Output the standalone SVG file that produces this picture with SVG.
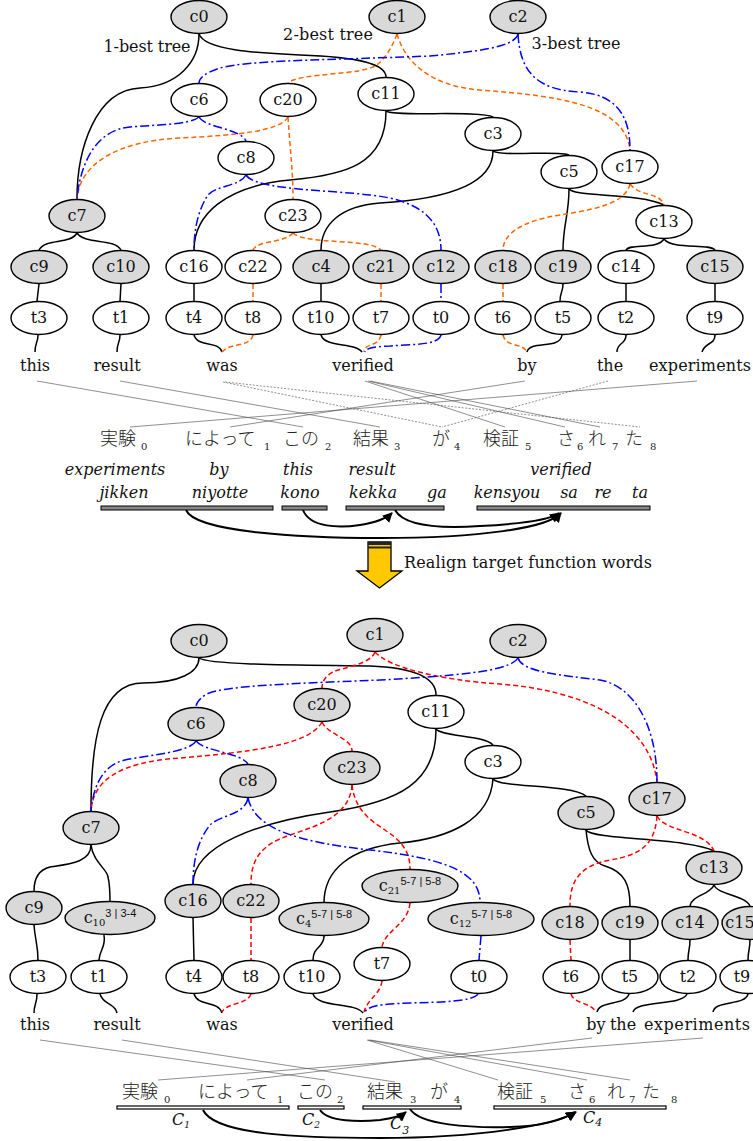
<svg xmlns="http://www.w3.org/2000/svg" width="753" height="1141" viewBox="0 0 753 1141">
<style>
.n{stroke:#000;stroke-width:1.4}
.g{fill:#d9d9d9}
.w{fill:#fff}
.lbl{font-family:"DejaVu Serif",serif;font-size:16px;text-anchor:middle;fill:#111}
.sub{font-size:10px}
.sup{font-family:"Liberation Sans",sans-serif;font-size:11px}
.e{fill:none;stroke:#000;stroke-width:1.5}
.o{fill:none;stroke:#ff6600;stroke-width:1.5;stroke-dasharray:5 3}
.r{fill:none;stroke:#ff0000;stroke-width:1.5;stroke-dasharray:5 3}
.b{fill:none;stroke:#0000ff;stroke-width:1.5;stroke-dasharray:9 3 2 3}
.al{stroke:#444;stroke-width:0.6;fill:none}
.ad{stroke:#444;stroke-width:0.6;stroke-dasharray:2 1.5;fill:none}
.word{font-family:"DejaVu Serif",serif;font-size:16px;text-anchor:middle;fill:#111}
.it{font-family:"DejaVu Serif",serif;font-size:16px;font-style:italic;text-anchor:middle;fill:#111}
.ja{font-family:"Noto Sans CJK JP",sans-serif;font-size:18px;font-weight:300;fill:#222}
.jd{font-family:"DejaVu Serif",serif;font-size:10px;fill:#222}
.bar{fill:#888;stroke:#000;stroke-width:1}
.bar2{fill:#fff;stroke:#000;stroke-width:1.2}
.arc{fill:none;stroke:#000;stroke-width:2;marker-end:url(#ah)}
</style>
<defs>
<marker id="ah" viewBox="0 0 10 10" refX="9" refY="5" markerWidth="5" markerHeight="5" orient="auto" markerUnits="strokeWidth">
<path d="M0,0 L10,5 L0,10 z" fill="#000"/>
</marker>
</defs>

<g id="connectors">
<path class="e" d="M199,34 C199,62 178,86 140,88 C95,90 77,150 77,199"/>
<path class="e" d="M199,34 C205,50 255,53 300,55 C360,57 386,64 386,77"/>
<path class="e" d="M386,111 C386,165 345,175 290,180 C225,186 194,215 194,250"/>
<path class="e" d="M386,111 C392,117 480,110 493,117"/>
<path class="e" d="M493,151 C493,190 430,200 380,203 C340,206 321,225 321,250"/>
<path class="e" d="M493,151 C500,157 560,150 569,155"/>
<path class="e" d="M569,189 C569,215 563,225 563,250"/>
<path class="e" d="M569,189 C575,197 640,193 664,205"/>
<path class="e" d="M77,233 C70,245 45,238 39,250"/>
<path class="e" d="M77,233 C85,245 115,238 121,250"/>
<path class="e" d="M664,239 C657,250 630,243 626,250"/>
<path class="e" d="M664,239 C672,250 710,243 715,250"/>
<path class="e" d="M39,284 L37,301"/>
<path class="e" d="M121,284 L120,301"/>
<path class="e" d="M194,284 L194,301"/>
<path class="e" d="M321,284 L321,301"/>
<path class="e" d="M563,284 C563,292 560,292 560,301"/>
<path class="e" d="M626,284 L626,301"/>
<path class="e" d="M715,284 L715,301"/>
<path class="e" d="M38,335 C38,343 35,342 35,352"/>
<path class="e" d="M120,335 C120,343 117,342 117,352"/>
<path class="e" d="M194,335 C198,348 218,340 222,352"/>
<path class="e" d="M321,335 C325,348 355,342 362,352"/>
<path class="e" d="M562,335 C560,350 530,340 527,352"/>
<path class="e" d="M626,335 C626,345 617,342 617,352"/>
<path class="e" d="M715,335 C715,345 705,342 702,352"/>
<path class="o" d="M397,34 C392,48 385,58 378,64 C365,76 300,72 288,83"/>
<path class="o" d="M397,34 C405,62 430,86 480,90 C560,96 625,105 630,150"/>
<path class="o" d="M288,117 C280,131 240,135 180,138 C120,141 80,162 77,199"/>
<path class="o" d="M288,117 C290,150 293,170 293,199"/>
<path class="o" d="M293,233 C285,243 258,240 253,250"/>
<path class="o" d="M293,233 C305,245 370,238 381,250"/>
<path class="o" d="M253,284 L253,301"/>
<path class="o" d="M381,284 L381,301"/>
<path class="o" d="M253,335 C250,348 230,342 222,352"/>
<path class="o" d="M381,335 C378,348 365,342 364,352"/>
<path class="o" d="M630,184 C625,205 590,210 560,215 C520,221 503,235 503,250"/>
<path class="o" d="M630,184 C640,197 660,192 664,205"/>
<path class="o" d="M503,284 L503,301"/>
<path class="o" d="M503,335 C506,348 522,342 527,352"/>
<path class="b" d="M518,34 C515,48 470,52 430,56 C330,60 250,60 220,68 C205,73 199,78 199,83"/>
<path class="b" d="M518,34 C520,70 535,90 580,92 C620,95 630,120 630,150"/>
<path class="b" d="M199,117 C190,125 150,125 130,127 C95,130 80,165 77,199"/>
<path class="b" d="M199,117 C205,128 240,128 246,141"/>
<path class="b" d="M246,175 C240,186 215,186 208,195 C198,210 194,230 194,250"/>
<path class="b" d="M246,175 C255,190 330,190 370,195 C420,200 441,220 441,250"/>
<path class="b" d="M441,284 L441,301"/>
<path class="b" d="M441,335 C438,346 410,344 390,346 C372,347 367,348 365,352"/>
<path class="al" d="M37,381 L303,427"/>
<path class="al" d="M120,381 L380,427"/>
<path class="al" d="M697,381 L130,427"/>
<path class="al" d="M525,381 L230,427"/>
<path class="ad" d="M223,382 L442,427"/>
<path class="ad" d="M225,382 L640,427"/>
<path class="ad" d="M608,381 L442,427"/>
<path class="al" d="M365,381 L505,427"/>
<path class="al" d="M368,381 L565,427"/>
<path class="al" d="M370,381 L600,427"/>
<path class="arc" d="M186,510 C195,532 300,538 380,538 C480,538 548,528 561,513"/>
<path class="arc" d="M303,510 C310,528 340,528 360,525 C378,522 387,518 392,513"/>
<path class="arc" d="M395,510 C405,528 450,528 480,526 C520,524 550,520 559,513"/>
<path class="e" d="M199,658 C199,672 180,683 143,683 C100,683 91,740 91,811"/>
<path class="e" d="M199,658 C210,666 330,665 370,666 C420,668 436,680 436,695"/>
<path class="e" d="M436,729 C436,782 400,802 330,812 C260,822 193,845 193,884"/>
<path class="e" d="M436,729 C442,737 485,735 493,745"/>
<path class="e" d="M493,779 C490,820 450,838 400,843 C350,848 324,870 324,903"/>
<path class="e" d="M493,779 C500,788 570,784 586,796"/>
<path class="e" d="M586,830 C588,850 592,862 605,866 C625,872 630,885 630,906"/>
<path class="e" d="M586,830 C592,840 690,838 714,851"/>
<path class="e" d="M91,845 C91,862 70,864 50,867 C38,870 34,880 34,891"/>
<path class="e" d="M91,845 C93,862 108,870 108,877 C110,885 110,895 110,902"/>
<path class="e" d="M714,885 C710,895 692,895 690,906"/>
<path class="e" d="M714,885 C718,895 745,895 750,906"/>
<path class="e" d="M34,925 C35,940 38,945 38,960"/>
<path class="e" d="M104,935 C106,948 100,948 99,960"/>
<path class="e" d="M193,918 L194,960"/>
<path class="e" d="M324,936 C324,948 313,946 313,960"/>
<path class="e" d="M630,940 L630,960"/>
<path class="e" d="M690,940 C690,950 688,950 688,960"/>
<path class="e" d="M750,940 C750,950 748,950 748,960"/>
<path class="e" d="M37,994 C37,1004 34,1004 34,1013"/>
<path class="e" d="M100,994 C103,1005 115,1003 117,1013"/>
<path class="e" d="M194,994 C198,1007 218,1000 222,1013"/>
<path class="e" d="M313,994 C318,1008 355,1002 363,1013"/>
<path class="e" d="M629,994 C625,1006 600,1000 597,1012"/>
<path class="e" d="M687,994 C682,1006 636,1000 633,1012"/>
<path class="e" d="M748,994 C745,1006 715,1000 713,1012"/>
<path class="r" d="M375,652 C370,665 340,668 333,672 C325,676 322,682 322,688"/>
<path class="r" d="M375,652 C390,668 440,680 500,684 C580,690 650,720 657,782"/>
<path class="r" d="M322,722 C310,745 250,752 180,758 C120,762 93,780 91,811"/>
<path class="r" d="M322,722 C328,735 352,738 352,751"/>
<path class="r" d="M352,785 C350,815 320,825 290,835 C260,845 251,860 251,884"/>
<path class="r" d="M352,785 C355,810 370,820 385,830 C400,840 410,850 410,869"/>
<path class="r" d="M251,918 L251,960"/>
<path class="r" d="M410,903 C408,925 385,930 382,947"/>
<path class="r" d="M382,981 C380,995 368,998 364,1012"/>
<path class="r" d="M251,994 C247,1005 228,1002 222,1012"/>
<path class="r" d="M657,816 C655,845 640,855 610,860 C580,866 570,880 570,906"/>
<path class="r" d="M657,816 C665,832 705,830 714,851"/>
<path class="r" d="M570,940 L571,960"/>
<path class="r" d="M571,994 C574,1004 590,1002 596,1012"/>
<path class="b" d="M518,658 C510,672 450,676 380,680 C280,684 220,686 205,695 C198,700 196,704 196,707"/>
<path class="b" d="M518,658 C522,672 560,675 600,680 C630,685 657,720 657,782"/>
<path class="b" d="M196,741 C190,752 150,755 125,760 C100,766 93,790 91,811"/>
<path class="b" d="M196,741 C205,752 240,752 248,764"/>
<path class="b" d="M248,798 C245,815 220,815 210,825 C198,840 193,860 193,884"/>
<path class="b" d="M248,798 C255,830 300,842 370,850 C440,858 480,870 480,902"/>
<path class="b" d="M481,936 L479,960"/>
<path class="b" d="M478,994 C472,1002 440,1002 410,1003 C380,1004 368,1006 365,1012"/>
<path class="al" d="M40,1040 L325,1080"/>
<path class="al" d="M122,1040 L395,1082"/>
<path class="al" d="M703,1038 L158,1080"/>
<path class="al" d="M592,1038 L247,1080"/>
<path class="al" d="M367,1040 L498,1080"/>
<path class="al" d="M368,1040 L587,1080"/>
<path class="al" d="M370,1040 L630,1080"/>
<path class="arc" d="M203,1110 C215,1135 300,1138 380,1138 C480,1138 555,1125 576,1112"/>
<path class="arc" d="M320,1110 C328,1122 360,1122 380,1120 C395,1118 401,1116 406,1112"/>
<path class="arc" d="M410,1109 C420,1125 470,1128 510,1127 C545,1126 563,1120 575,1112"/>
</g>

<g id="labels">
<text class="word" x="147" y="52" textLength="87">1-best tree</text>
<text class="word" x="328" y="40" textLength="90">2-best tree</text>
<text class="word" x="576" y="49" textLength="89">3-best tree</text>
</g>

<g id="top-c0"><ellipse class="n g" cx="199" cy="17" rx="28" ry="16.5"/><text class="lbl" x="199" y="22">c0</text></g>
<g id="top-c1"><ellipse class="n g" cx="397" cy="17" rx="28" ry="16.5"/><text class="lbl" x="397" y="22">c1</text></g>
<g id="top-c2"><ellipse class="n g" cx="518" cy="17" rx="28" ry="16.5"/><text class="lbl" x="518" y="22">c2</text></g>
<g id="top-c6"><ellipse class="n w" cx="199" cy="100" rx="28" ry="16.5"/><text class="lbl" x="199" y="105">c6</text></g>
<g id="top-c20"><ellipse class="n w" cx="288" cy="100" rx="28" ry="16.5"/><text class="lbl" x="288" y="105">c20</text></g>
<g id="top-c11"><ellipse class="n w" cx="386" cy="94" rx="28" ry="16.5"/><text class="lbl" x="386" y="99">c11</text></g>
<g id="top-c3"><ellipse class="n w" cx="493" cy="134" rx="28" ry="16.5"/><text class="lbl" x="493" y="139">c3</text></g>
<g id="top-c5"><ellipse class="n w" cx="569" cy="172" rx="28" ry="16.5"/><text class="lbl" x="569" y="177">c5</text></g>
<g id="top-c17"><ellipse class="n w" cx="630" cy="167" rx="28" ry="16.5"/><text class="lbl" x="630" y="172">c17</text></g>
<g id="top-c8"><ellipse class="n w" cx="246" cy="158" rx="28" ry="16.5"/><text class="lbl" x="246" y="163">c8</text></g>
<g id="top-c7"><ellipse class="n g" cx="77" cy="216" rx="28" ry="16.5"/><text class="lbl" x="77" y="221">c7</text></g>
<g id="top-c23"><ellipse class="n w" cx="293" cy="216" rx="28" ry="16.5"/><text class="lbl" x="293" y="221">c23</text></g>
<g id="top-c13"><ellipse class="n w" cx="664" cy="222" rx="28" ry="16.5"/><text class="lbl" x="664" y="227">c13</text></g>
<g id="top-c9"><ellipse class="n g" cx="39" cy="267" rx="28" ry="16.5"/><text class="lbl" x="39" y="272">c9</text></g>
<g id="top-c10"><ellipse class="n g" cx="121" cy="267" rx="28" ry="16.5"/><text class="lbl" x="121" y="272">c10</text></g>
<g id="top-c16"><ellipse class="n w" cx="194" cy="267" rx="28" ry="16.5"/><text class="lbl" x="194" y="272">c16</text></g>
<g id="top-c22"><ellipse class="n w" cx="253" cy="267" rx="28" ry="16.5"/><text class="lbl" x="253" y="272">c22</text></g>
<g id="top-c4"><ellipse class="n g" cx="321" cy="267" rx="28" ry="16.5"/><text class="lbl" x="321" y="272">c4</text></g>
<g id="top-c21"><ellipse class="n g" cx="381" cy="267" rx="28" ry="16.5"/><text class="lbl" x="381" y="272">c21</text></g>
<g id="top-c12"><ellipse class="n g" cx="441" cy="267" rx="28" ry="16.5"/><text class="lbl" x="441" y="272">c12</text></g>
<g id="top-c18"><ellipse class="n g" cx="503" cy="267" rx="28" ry="16.5"/><text class="lbl" x="503" y="272">c18</text></g>
<g id="top-c19"><ellipse class="n g" cx="563" cy="267" rx="28" ry="16.5"/><text class="lbl" x="563" y="272">c19</text></g>
<g id="top-c14"><ellipse class="n w" cx="626" cy="267" rx="28" ry="16.5"/><text class="lbl" x="626" y="272">c14</text></g>
<g id="top-c15"><ellipse class="n g" cx="715" cy="267" rx="28" ry="16.5"/><text class="lbl" x="715" y="272">c15</text></g>
<g id="top-t3"><ellipse class="n w" cx="39" cy="318" rx="28" ry="16.5"/><text class="lbl" x="39" y="323">t3</text></g>
<g id="top-t1"><ellipse class="n w" cx="121" cy="318" rx="28" ry="16.5"/><text class="lbl" x="121" y="323">t1</text></g>
<g id="top-t4"><ellipse class="n w" cx="194" cy="318" rx="28" ry="16.5"/><text class="lbl" x="194" y="323">t4</text></g>
<g id="top-t8"><ellipse class="n w" cx="253" cy="318" rx="28" ry="16.5"/><text class="lbl" x="253" y="323">t8</text></g>
<g id="top-t10"><ellipse class="n w" cx="321" cy="318" rx="28" ry="16.5"/><text class="lbl" x="321" y="323">t10</text></g>
<g id="top-t7"><ellipse class="n w" cx="381" cy="318" rx="28" ry="16.5"/><text class="lbl" x="381" y="323">t7</text></g>
<g id="top-t0"><ellipse class="n w" cx="441" cy="318" rx="28" ry="16.5"/><text class="lbl" x="441" y="323">t0</text></g>
<g id="top-t6"><ellipse class="n w" cx="503" cy="318" rx="28" ry="16.5"/><text class="lbl" x="503" y="323">t6</text></g>
<g id="top-t5"><ellipse class="n w" cx="563" cy="318" rx="28" ry="16.5"/><text class="lbl" x="563" y="323">t5</text></g>
<g id="top-t2"><ellipse class="n w" cx="626" cy="318" rx="28" ry="16.5"/><text class="lbl" x="626" y="323">t2</text></g>
<g id="top-t9"><ellipse class="n w" cx="715" cy="318" rx="28" ry="16.5"/><text class="lbl" x="715" y="323">t9</text></g>

<g id="top-words">
<text class="word" x="35" y="371">this</text>
<text class="word" x="117" y="371">result</text>
<text class="word" x="222" y="371">was</text>
<text class="word" x="363" y="371">verified</text>
<text class="word" x="527" y="371">by</text>
<text class="word" x="610" y="371">the</text>
<text class="word" x="700" y="371" textLength="102">experiments</text>
</g>

<g id="top-japanese">
<text class="ja" x="100" y="445">実験</text><text class="jd" x="141" y="450">0</text>
<text class="ja" x="185" y="445">によって</text><text class="jd" x="264" y="450">1</text>
<text class="ja" x="283" y="445">この</text><text class="jd" x="325" y="450">2</text>
<text class="ja" x="353" y="445">結果</text><text class="jd" x="394" y="450">3</text>
<text class="ja" x="432" y="445">が</text><text class="jd" x="454" y="450">4</text>
<text class="ja" x="483" y="445">検証</text><text class="jd" x="525" y="450">5</text>
<text class="ja" x="557" y="445">さ</text><text class="jd" x="577" y="450">6</text>
<text class="ja" x="588" y="445">れ</text><text class="jd" x="612" y="450">7</text>
<text class="ja" x="625" y="445">た</text><text class="jd" x="650" y="450">8</text>
</g>

<g id="top-gloss">
<text class="it" x="115" y="475">experiments</text>
<text class="it" x="219" y="475">by</text>
<text class="it" x="298" y="475">this</text>
<text class="it" x="372" y="475">result</text>
<text class="it" x="561" y="475">verified</text>
<text class="it" x="124" y="498">jikken</text>
<text class="it" x="220" y="498">niyotte</text>
<text class="it" x="300" y="498">kono</text>
<text class="it" x="373" y="498">kekka</text>
<text class="it" x="437" y="498">ga</text>
<text class="it" x="507" y="498">kensyou</text>
<text class="it" x="569" y="498">sa</text>
<text class="it" x="603" y="498">re</text>
<text class="it" x="640" y="498">ta</text>
</g>

<g id="top-chunks">
<rect class="bar" x="101" y="506" width="172" height="4"/>
<rect class="bar" x="282" y="506" width="45" height="4"/>
<rect class="bar" x="346" y="506" width="98" height="4"/>
<rect class="bar" x="477" y="506" width="173" height="4"/>
</g>

<g id="realign-arrow">
<polygon points="368,542 391,542 391,571 402,571 379.5,588 357,571 368,571" fill="#ffc800" stroke="#000" stroke-width="1.3"/>
<rect x="368" y="542" width="23" height="3" fill="#222"/>
<rect x="368" y="546.5" width="23" height="2" fill="#222"/>
<text x="404" y="568" font-family="DejaVu Serif, serif" font-size="16" fill="#111" textLength="248">Realign target function words</text>
</g>

<g id="bot-c0"><ellipse class="n g" cx="199" cy="641" rx="28" ry="16.5"/><text class="lbl" x="199" y="646">c0</text></g>
<g id="bot-c1"><ellipse class="n g" cx="375" cy="635" rx="28" ry="16.5"/><text class="lbl" x="375" y="640">c1</text></g>
<g id="bot-c2"><ellipse class="n g" cx="518" cy="641" rx="28" ry="16.5"/><text class="lbl" x="518" y="646">c2</text></g>
<g id="bot-c20"><ellipse class="n g" cx="322" cy="705" rx="28" ry="16.5"/><text class="lbl" x="322" y="710">c20</text></g>
<g id="bot-c6"><ellipse class="n g" cx="196" cy="724" rx="28" ry="16.5"/><text class="lbl" x="196" y="729">c6</text></g>
<g id="bot-c11"><ellipse class="n w" cx="436" cy="712" rx="28" ry="16.5"/><text class="lbl" x="436" y="717">c11</text></g>
<g id="bot-c23"><ellipse class="n g" cx="352" cy="768" rx="28" ry="16.5"/><text class="lbl" x="352" y="773">c23</text></g>
<g id="bot-c8"><ellipse class="n g" cx="248" cy="781" rx="28" ry="16.5"/><text class="lbl" x="248" y="786">c8</text></g>
<g id="bot-c3"><ellipse class="n w" cx="493" cy="762" rx="28" ry="16.5"/><text class="lbl" x="493" y="767">c3</text></g>
<g id="bot-c17"><ellipse class="n g" cx="657" cy="799" rx="28" ry="16.5"/><text class="lbl" x="657" y="804">c17</text></g>
<g id="bot-c5"><ellipse class="n g" cx="586" cy="813" rx="28" ry="16.5"/><text class="lbl" x="586" y="818">c5</text></g>
<g id="bot-c7"><ellipse class="n g" cx="91" cy="828" rx="28" ry="16.5"/><text class="lbl" x="91" y="833">c7</text></g>
<g id="bot-c13"><ellipse class="n g" cx="714" cy="868" rx="28" ry="16.5"/><text class="lbl" x="714" y="873">c13</text></g>
<g id="bot-c9"><ellipse class="n g" cx="34" cy="908" rx="28" ry="16.5"/><text class="lbl" x="34" y="913">c9</text></g>
<g id="bot-c10"><ellipse class="n g" cx="110" cy="918" rx="45" ry="16.5"/><text class="lbl" x="110" y="923"><tspan>c</tspan><tspan class="sub" dy="3">10</tspan><tspan class="sup" dy="-9">3 | 3-4</tspan></text></g>
<g id="bot-c16"><ellipse class="n g" cx="193" cy="901" rx="28" ry="16.5"/><text class="lbl" x="193" y="906">c16</text></g>
<g id="bot-c22"><ellipse class="n g" cx="251" cy="901" rx="28" ry="16.5"/><text class="lbl" x="251" y="906">c22</text></g>
<g id="bot-c4"><ellipse class="n g" cx="324" cy="919" rx="45" ry="16.5"/><text class="lbl" x="324" y="924"><tspan>c</tspan><tspan class="sub" dy="3">4</tspan><tspan class="sup" dy="-9">5-7 | 5-8</tspan></text></g>
<g id="bot-c21"><ellipse class="n g" cx="410" cy="886" rx="48" ry="16.5"/><text class="lbl" x="410" y="891"><tspan>c</tspan><tspan class="sub" dy="3">21</tspan><tspan class="sup" dy="-9">5-7 | 5-8</tspan></text></g>
<g id="bot-c12"><ellipse class="n g" cx="481" cy="919" rx="53" ry="16.5"/><text class="lbl" x="481" y="924"><tspan>c</tspan><tspan class="sub" dy="3">12</tspan><tspan class="sup" dy="-9">5-7 | 5-8</tspan></text></g>
<g id="bot-c18"><ellipse class="n g" cx="570" cy="923" rx="28" ry="16.5"/><text class="lbl" x="570" y="928">c18</text></g>
<g id="bot-c19"><ellipse class="n g" cx="630" cy="923" rx="28" ry="16.5"/><text class="lbl" x="630" y="928">c19</text></g>
<g id="bot-c14"><ellipse class="n g" cx="690" cy="923" rx="28" ry="16.5"/><text class="lbl" x="690" y="928">c14</text></g>
<g id="bot-c15"><ellipse class="n g" cx="750" cy="923" rx="28" ry="16.5"/><text class="lbl" x="740" y="928">c15</text></g>
<g id="bot-t3"><ellipse class="n w" cx="38" cy="977" rx="28" ry="16.5"/><text class="lbl" x="38" y="982">t3</text></g>
<g id="bot-t1"><ellipse class="n w" cx="99" cy="977" rx="28" ry="16.5"/><text class="lbl" x="99" y="982">t1</text></g>
<g id="bot-t4"><ellipse class="n w" cx="194" cy="977" rx="28" ry="16.5"/><text class="lbl" x="194" y="982">t4</text></g>
<g id="bot-t8"><ellipse class="n w" cx="251" cy="977" rx="28" ry="16.5"/><text class="lbl" x="251" y="982">t8</text></g>
<g id="bot-t10"><ellipse class="n w" cx="312" cy="977" rx="28" ry="16.5"/><text class="lbl" x="312" y="982">t10</text></g>
<g id="bot-t7"><ellipse class="n w" cx="382" cy="964" rx="28" ry="16.5"/><text class="lbl" x="382" y="969">t7</text></g>
<g id="bot-t0"><ellipse class="n w" cx="479" cy="977" rx="28" ry="16.5"/><text class="lbl" x="479" y="982">t0</text></g>
<g id="bot-t6"><ellipse class="n w" cx="571" cy="977" rx="28" ry="16.5"/><text class="lbl" x="571" y="982">t6</text></g>
<g id="bot-t5"><ellipse class="n w" cx="630" cy="977" rx="28" ry="16.5"/><text class="lbl" x="630" y="982">t5</text></g>
<g id="bot-t2"><ellipse class="n w" cx="688" cy="977" rx="28" ry="16.5"/><text class="lbl" x="688" y="982">t2</text></g>
<g id="bot-t9"><ellipse class="n w" cx="748" cy="977" rx="28" ry="16.5"/><text class="lbl" x="742" y="982">t9</text></g>

<g id="bot-words">
<text class="word" x="35" y="1030">this</text>
<text class="word" x="117" y="1030">result</text>
<text class="word" x="222" y="1030">was</text>
<text class="word" x="363" y="1030">verified</text>
<text class="word" x="596" y="1030">by</text>
<text class="word" x="623" y="1030">the</text>
<text class="word" x="644" y="1030" style="text-anchor:start" textLength="106">experiments</text>
</g>

<g id="bot-japanese">
<text class="ja" x="122" y="1098">実験</text><text class="jd" x="164" y="1103">0</text>
<text class="ja" x="198" y="1098">によって</text><text class="jd" x="277" y="1103">1</text>
<text class="ja" x="297" y="1098">この</text><text class="jd" x="337" y="1103">2</text>
<text class="ja" x="367" y="1098">結果</text><text class="jd" x="410" y="1103">3</text>
<text class="ja" x="430" y="1098">が</text><text class="jd" x="454" y="1103">4</text>
<text class="ja" x="497" y="1098">検証</text><text class="jd" x="540" y="1103">5</text>
<text class="ja" x="568" y="1098">さ</text><text class="jd" x="589" y="1103">6</text>
<text class="ja" x="607" y="1098">れ</text><text class="jd" x="629" y="1103">7</text>
<text class="ja" x="642" y="1098">た</text><text class="jd" x="671" y="1103">8</text>
</g>

<g id="bot-chunks">
<rect class="bar2" x="117" y="1106" width="172" height="3"/>
<rect class="bar2" x="298" y="1106" width="46" height="3"/>
<rect class="bar2" x="363" y="1106" width="98" height="3"/>
<rect class="bar2" x="494" y="1106" width="172" height="3"/>
<text class="it" x="172" y="1125" style="text-anchor:start">C<tspan font-size="9" dy="3">1</tspan></text>
<text class="it" x="302" y="1125" style="text-anchor:start">C<tspan font-size="9" dy="3">2</tspan></text>
<text class="it" x="390" y="1129" style="text-anchor:start">C<tspan font-size="11" dy="5">3</tspan></text>
<text class="it" x="583" y="1123" style="text-anchor:start">C<tspan font-size="11" dy="3">4</tspan></text>
</g>
</svg>
